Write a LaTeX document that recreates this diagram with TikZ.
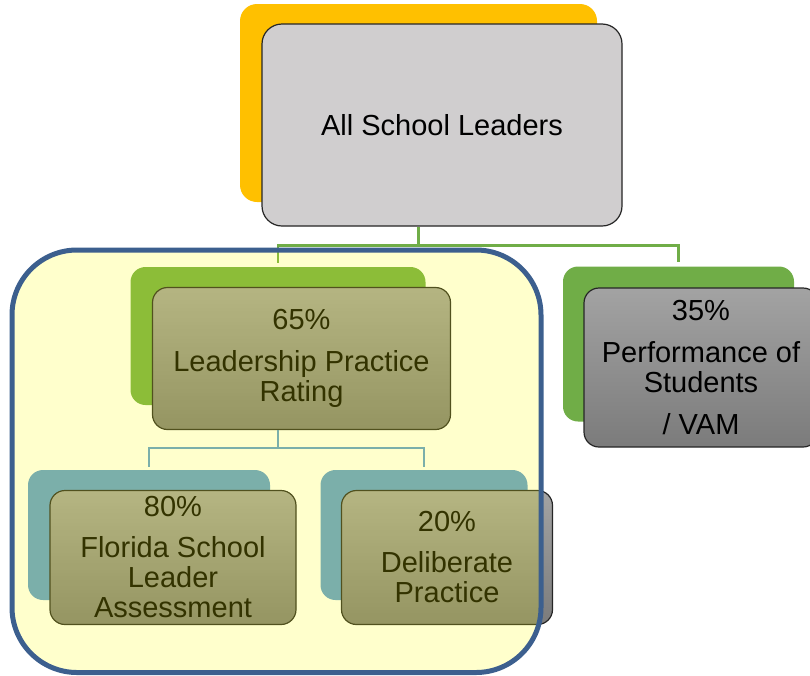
\documentclass[tikz,border=0pt]{standalone}
\usepackage{fontspec}
\setmainfont{Liberation Sans}

\definecolor{leadgold}{HTML}{FFC000}
\definecolor{leadgray}{HTML}{D0CECF}
\definecolor{leadgreen}{HTML}{70AD47}
\definecolor{leadblue}{HTML}{5B9BD5}
\definecolor{boxtop}{HTML}{A3A3A3}
\definecolor{boxbot}{HTML}{7B7B7B}
\definecolor{tintyellow}{RGB}{255,255,0}
\definecolor{frameblue}{HTML}{3C5F8E}

\begin{document}
\begin{tikzpicture}[
    x=1pt,
    y=-1pt,
    backbox/.style={rectangle, rounded corners=15pt, inner sep=0pt},
    levelbox/.style={rectangle, rounded corners=15pt, draw=black!85, line width=1.2pt,
        top color=boxtop, bottom color=boxbot, align=center, inner sep=4pt,
        font=\fontsize{29}{30}\selectfont},
    bus/.style={line width=2.2pt}]
    \useasboundingbox (0,0) rectangle (810,675);

    % Top level
    \node[backbox, fill=leadgold, rounded corners=17pt, minimum width=357pt, minimum height=198pt] (topback) at (418.5,103) {};
    \node[levelbox, rounded corners=20pt, fill=leadgray, top color=leadgray, bottom color=leadgray,
        minimum width=360pt, minimum height=202pt] (top) at (442,125) {All School Leaders};

    % Second level
    \node[backbox, fill=leadgreen, minimum width=295pt, minimum height=138pt] (lpback) at (278,336) {};
    \node[levelbox, minimum width=298pt, minimum height=142pt] (lp) at (301.5,358.5)
        {65\%\\[12pt]Leadership Practice\\Rating};
    \node[backbox, fill=leadgreen, minimum width=231pt, minimum height=155pt] (perfback) at (678.5,344) {};
    \node[levelbox, minimum width=234pt, minimum height=159pt] (perf) at (701,367.5)
        {35\%\\[12pt]Performance of\\Students\\[12pt]/ VAM};

    % Third level
    \node[backbox, fill=leadblue, minimum width=242pt, minimum height=130pt] (flback) at (149,535) {};
    \node[levelbox, minimum width=246pt, minimum height=134pt] (fl) at (173,557.5)
        {80\%\\[11pt]Florida School\\Leader\\Assessment};
    \node[backbox, fill=leadblue, minimum width=207pt, minimum height=130pt] (dpback) at (424,535) {};
    \node[levelbox, minimum width=211pt, minimum height=134pt] (dp) at (447,557.5)
        {20\%\\[11pt]Deliberate\\Practice};

    % Connectors
    \coordinate (topbus) at (0,245.5);
    \coordinate (lowbus) at (0,448);
    \draw[bus, leadgreen, shorten >=4pt] (topback.south |- top.south) -- (topback.south |- topbus) -| (lpback.north);
    \draw[bus, leadgreen, shorten >=4pt] (topback.south |- topbus) -| (perfback.north);
    \draw[bus, leadblue, shorten >=3pt] (lpback.south |- lp.south) -- (lpback.south |- lowbus) -| (flback.north);
    \draw[bus, leadblue, shorten >=3pt] (lpback.south |- lowbus) -| (dpback.north);

    % Tinted frame round the practice rating
    \fill[tintyellow, fill opacity=0.2, rounded corners=65pt] (12,250) rectangle (541,672.5);
    \draw[frameblue, line width=5pt, rounded corners=65pt] (12,250) rectangle (541,672.5);
\end{tikzpicture}
\end{document}
